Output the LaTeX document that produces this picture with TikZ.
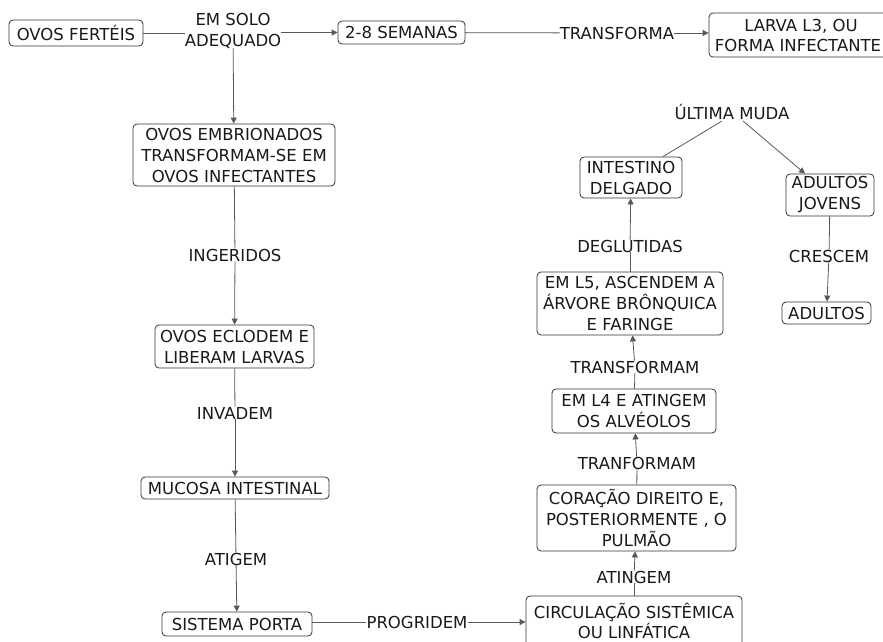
\documentclass[tikz,border=0pt]{standalone}
\usepackage{fontspec}
\setmainfont{DejaVu Sans}
\usetikzlibrary{arrows.meta,calc}
\begin{document}
\begin{tikzpicture}[x=1pt,y=-1pt,
  font=\fontsize{16.5}{21}\selectfont,
  concept/.style={draw=black!80, line width=0.8pt, rounded corners=4pt, align=center,
    inner xsep=3pt, inner ysep=1pt, text=black!90},
  linkword/.style={inner sep=0pt, align=center, text=black!90},
  conn/.style={draw=black!65, line width=0.8pt},
  arr/.style={conn, -{Triangle[length=6pt,width=6pt]}}]
\useasboundingbox (0,0) rectangle (883,642);

% concepts
\node[concept, minimum width=134, minimum height=26] (fert) at (76,33) {OVOS FERTÉIS};
\node[concept, minimum width=127, minimum height=23] (sem) at (401.5,32.5) {2-8 SEMANAS};
\node[concept, minimum width=184, minimum height=44] (larva) at (801,35) {LARVA L3, OU\\[-1pt]\hspace*{-6pt}FORMA INFECTANTE};
\node[concept, minimum width=202, minimum height=62] (embr) at (234,155) {OVOS EMBRIONADOS\\TRANSFORMAM-SE EM\\OVOS INFECTANTES};
\node[concept, minimum width=159, minimum height=43] (ecl) at (234.5,346.5) {OVOS ECLODEM E\\LIBERAM LARVAS};
\node[concept, minimum width=188, minimum height=22] (muc) at (235,488) {MUCOSA INTESTINAL};
\node[concept, minimum width=150, minimum height=24] (porta) at (237,624) {SISTEMA PORTA};
\node[concept, minimum width=216, minimum height=50] (circ) at (634,621) {CIRCULAÇÃO SISTÊMICA\\[-1pt]OU LINFÁTICA};
\node[concept, minimum width=199, minimum height=66] (cor) at (636.5,518) {CORAÇÃO DIREITO E,\\POSTERIORMENTE , O\\PULMÃO};
\node[concept, minimum width=164, minimum height=44] (lq) at (634,411) {EM L4 E ATINGEM\\OS ALVÉOLOS};
\node[concept, minimum width=186, minimum height=63] (lc) at (630,303.5) {EM L5, ASCENDEM A\\ÁRVORE BRÔNQUICA\\E FARINGE};
\node[concept, minimum width=102, minimum height=41] (intd) at (631,177.5) {INTESTINO\\DELGADO};
\node[concept, minimum width=88, minimum height=42] (jov) at (830,195) {ADULTOS\\JOVENS};
\node[concept, minimum width=89, minimum height=22] (adu) at (826.5,313) {ADULTOS};

% linking words
\node[linkword] (solo) at (233,30.5) {EM SOLO\\ADEQUADO};
\node[linkword] (transf) at (617,33) {TRANSFORMA};
\node[linkword] (ing) at (235,255) {INGERIDOS};
\node[linkword] (inv) at (235,413) {INVADEM};
\node[linkword] (atig) at (236,559) {ATIGEM};
\node[linkword] (prog) at (417,622) {PROGRIDEM};
\node[linkword] (ating) at (634,577) {ATINGEM};
\node[linkword] (tranf) at (637,463) {TRANFORMAM};
\node[linkword] (transm) at (635,367) {TRANSFORMAM};
\node[linkword] (deg) at (630,246) {DEGLUTIDAS};
\node[linkword] (ult) at (732,112) {ÚLTIMA MUDA};
\node[linkword] (cresc) at (829,256) {CRESCEM};

% free ends of the two branches under ÚLTIMA MUDA
\coordinate (ia) at ($(intd.north)+(32,0)$);
\coordinate (ua) at ($(ult.south)+(-10,1)$);
\coordinate (ub) at ($(ult.south)+(11,1)$);
\coordinate (ja) at ($(jov.north)+(-25,0)$);

% connectors
\draw[conn] (fert) -- (fert.east -| solo.west);
\draw[arr] (sem.west -| solo.east) -- (sem);
\draw[arr] (solo) -- (embr);
\draw[conn] (sem) -- (transf);
\draw[arr] (transf) -- (larva.west |- transf);
\draw[conn] (embr) -- (ing);
\draw[arr] (ing) -- (ecl);
\draw[conn] (ecl) -- (inv);
\draw[arr] (inv) -- (muc);
\draw[conn] (muc) -- (atig);
\draw[arr] (atig) -- (porta);
\draw[conn] (porta.east |- prog) -- (prog);
\draw[arr] (prog) -- (circ.west |- prog);
\draw[conn] (circ) -- (ating);
\draw[arr] (ating) -- (cor);
\draw[conn] (cor) -- (tranf);
\draw[arr] (tranf) -- (lq);
\draw[conn] (lq) -- (transm);
\draw[arr] (transm) -- (lc);
\draw[conn] (lc) -- (deg);
\draw[arr] (deg) -- (intd);
\draw[conn] (ia) -- (ua);
\draw[arr] (ub) -- (ja);
\draw[conn] (jov) -- (cresc);
\draw[arr] (cresc) -- (adu);
\end{tikzpicture}
\end{document}
